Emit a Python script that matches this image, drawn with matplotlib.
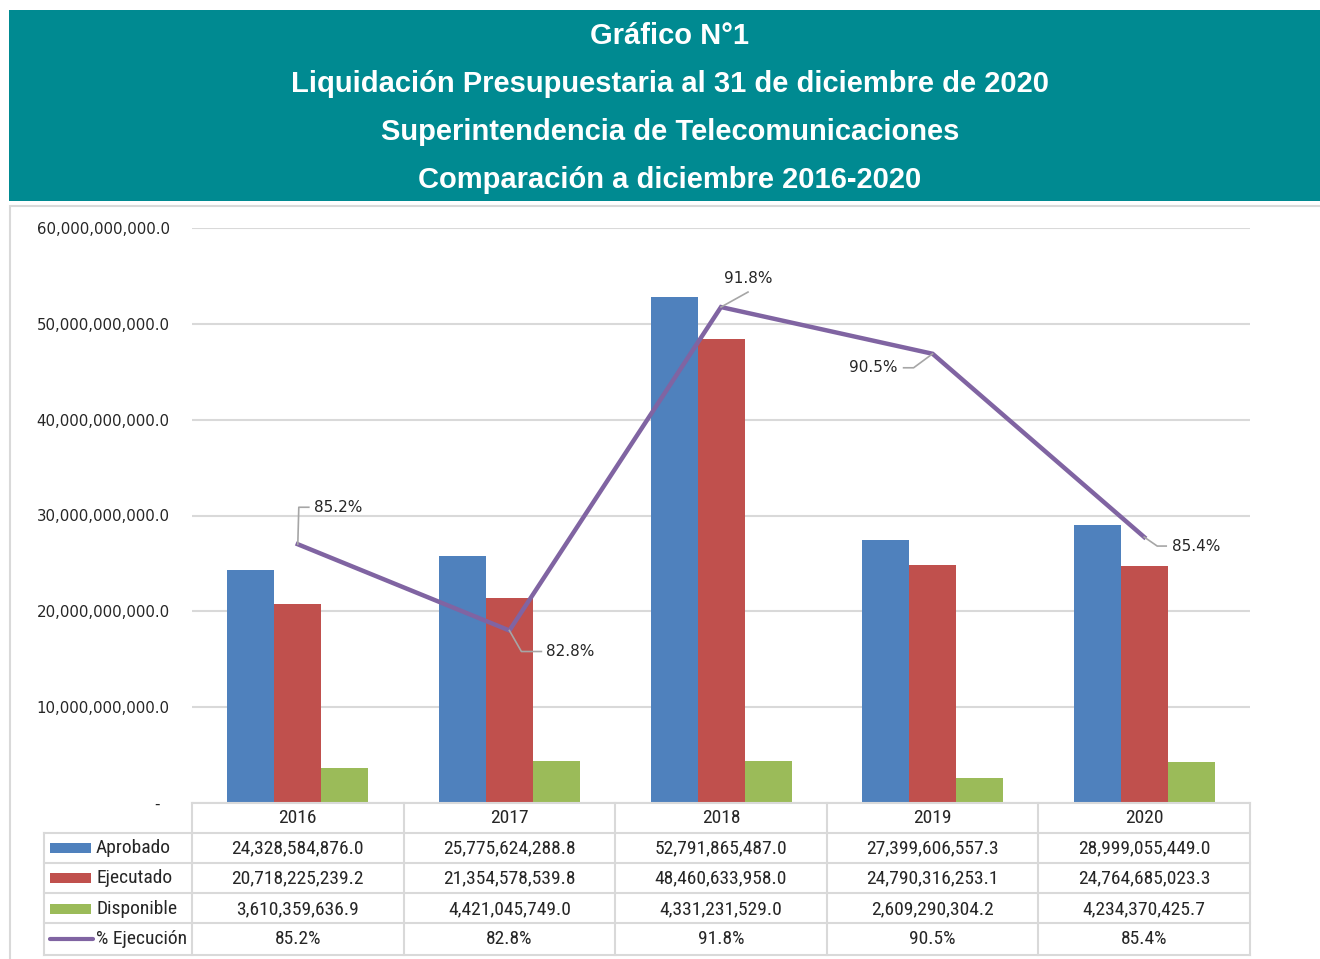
import matplotlib
matplotlib.use('Agg')
import matplotlib.pyplot as plt
import numpy as np
from matplotlib.patches import Rectangle
from matplotlib.lines import Line2D
from matplotlib.transforms import blended_transform_factory
from matplotlib import font_manager

# ---------------- data ----------------
years = ['2016', '2017', '2018', '2019', '2020']
aprobado = [24328584876.0, 25775624288.8, 52791865487.0, 27399606557.3, 28999055449.0]
ejecutado = [20718225239.2, 21354578539.8, 48460633958.0, 24790316253.1, 24764685023.3]
disponible = [3610359636.9, 4421045749.0, 4331231529.0, 2609290304.2, 4234370425.7]
pct_ejecucion = [85.2, 82.8, 91.8, 90.5, 85.4]
series_names = ['Aprobado', 'Ejecutado', 'Disponible', '% Ejecución']
title_lines = ['Gráfico N°1',
               'Liquidación Presupuestaria al 31 de diciembre de 2020',
               'Superintendencia de Telecomunicaciones',
               'Comparación a diciembre 2016-2020']
y_ticks = [0, 10e9, 20e9, 30e9, 40e9, 50e9, 60e9]

# ---------------- style ----------------
TEAL = '#008A91'
BLUE = '#4F81BD'
RED = '#C0504D'
GREEN = '#9BBB59'
PURPLE = '#8064A2'
GRID = '#D9D9D9'
TXT = '#262626'

available = {f.name for f in font_manager.fontManager.ttflist}
narrow = 'DejaVu Sans'
for cand in ['Liberation Sans Narrow', 'Arial Narrow', 'Roboto Condensed', 'DejaVu Sans Condensed']:
    if cand in available:
        narrow = cand
        break

W, H = 1320, 959
fig = plt.figure(figsize=(W / 100, H / 100), dpi=100)
fig.patch.set_facecolor('white')

def fx(px):
    return px / W

def fy(py):
    return 1 - py / H

# header band
fig.patches.append(Rectangle((fx(9), fy(201)), fx(1320) - fx(9), fy(10) - fy(201),
                             transform=fig.transFigure, facecolor=TEAL, edgecolor='none', zorder=0))
for i, line in enumerate(title_lines):
    fig.text(fx(670), fy(36 + 48 * i), line, ha='center', va='center', color='white',
             fontsize=21, fontweight='bold', family='Liberation Sans')

# chart border
fig.patches.append(Rectangle((fx(9.5), fy(975)), fx(1330) - fx(9.5), fy(206) - fy(975),
                             transform=fig.transFigure, facecolor='none', edgecolor=GRID,
                             linewidth=1.5, zorder=0))

# ---------------- main axes ----------------
ax = fig.add_axes([fx(192), fy(803), fx(1250) - fx(192), fy(228) - fy(803)])
x = np.arange(len(years))
w = 47 / 211.6
ax.bar(x - w, aprobado, w, color=BLUE, zorder=2)
ax.bar(x, ejecutado, w, color=RED, zorder=2)
ax.bar(x + w, disponible, w, color=GREEN, zorder=2)
ax.set_xlim(-0.5, len(years) - 0.5)
ax.set_ylim(0, 60e9)
ax.set_yticks(y_ticks)
ax.set_yticklabels(['-  ' if v == 0 else f'{v:,.1f}' for v in y_ticks])
ax.tick_params(axis='y', length=0, pad=16, labelsize=10.8, labelcolor=TXT)
ax.set_xticks([])
ax.grid(axis='y', color=GRID, linewidth=1.5, zorder=0)
for s in ax.spines.values():
    s.set_visible(False)

ax2 = ax.twinx()
ax2.set_ylim(78, 94)
ax2.plot(x, pct_ejecucion, color=PURPLE, linewidth=3.2, solid_joinstyle='miter', zorder=3)
ax2.set_yticks([])
for s in ax2.spines.values():
    s.set_visible(False)

# data labels with leader lines (offsets in pixels, y downward)
label_specs = [
    ([(0, 0), (1, -37), (11, -37)], (16, -37), 'left'),
    ([(0, 0), (12, 21), (32, 21)], (37, 21), 'left'),
    ([(0, 0), (27, -15)], (27, -29), 'center'),
    ([(0, 0), (-19, 14), (-29, 14)], (-35, 14), 'right'),
    ([(0, 0), (13, 9), (22, 9)], (28, 9), 'left'),
]
for i, (poly, lab, ha) in enumerate(label_specs):
    px0 = ax2.transData.transform((x[i], pct_ejecucion[i]))
    xs = [(px0[0] + dx) / W for dx, dy in poly]
    ys = [(px0[1] - dy) / H for dx, dy in poly]
    fig.add_artist(Line2D(xs, ys, transform=fig.transFigure, color='#A6A6A6', linewidth=1.2, zorder=4))
    fig.text((px0[0] + lab[0]) / W, (px0[1] - lab[1]) / H, f'{pct_ejecucion[i]:.1f}%',
             ha=ha, va='center', fontsize=11, color=TXT, zorder=5)

# ---------------- data table ----------------
bt = blended_transform_factory(ax.transData, fig.transFigure)
row_edges = [803, 833, 863, 893, 923, 955]
row_centers = [818, 848, 878, 909, 939]
col_edges = np.arange(len(years) + 1) - 0.5

fig.add_artist(Line2D([fx(192), fx(1250)], [fy(803), fy(803)], transform=fig.transFigure,
                      color=GRID, linewidth=1.5))
for ry in row_edges[1:]:
    fig.add_artist(Line2D([fx(44), fx(1250)], [fy(ry), fy(ry)], transform=fig.transFigure,
                          color=GRID, linewidth=1.5))
fig.add_artist(Line2D([fx(44), fx(44)], [fy(833), fy(955)], transform=fig.transFigure,
                      color=GRID, linewidth=1.5))
for ce in col_edges:
    fig.add_artist(Line2D([ce, ce], [fy(803), fy(955)], transform=bt, color=GRID, linewidth=1.5))

tfs = 14
for i, yr in enumerate(years):
    fig.text(x[i], fy(row_centers[0]), yr, transform=bt, ha='center', va='center',
             fontsize=tfs, color=TXT, family=narrow)
rows = [aprobado, ejecutado, disponible]
for r, vals in enumerate(rows):
    for i, v in enumerate(vals):
        fig.text(x[i], fy(row_centers[r + 1]), f'{v:,.1f}', transform=bt, ha='center',
                 va='center', fontsize=tfs, color=TXT, family=narrow)
for i, v in enumerate(pct_ejecucion):
    fig.text(x[i], fy(row_centers[4]), f'{v:.1f}%', transform=bt, ha='center', va='center',
             fontsize=tfs, color=TXT, family=narrow)

colors = [BLUE, RED, GREEN]
for r in range(3):
    yc = row_centers[r + 1]
    fig.patches.append(Rectangle((fx(50), fy(yc + 5)), fx(91) - fx(50), fy(yc - 5) - fy(yc + 5),
                                 transform=fig.transFigure, facecolor=colors[r], edgecolor='none'))
fig.add_artist(Line2D([fx(50), fx(93)], [fy(row_centers[4]), fy(row_centers[4])],
                      transform=fig.transFigure, color=PURPLE, linewidth=3, solid_capstyle='round'))
for r, name in enumerate(series_names):
    fig.text(fx(96), fy(row_centers[r + 1]), name, ha='left', va='center', fontsize=tfs,
             color=TXT, family=narrow)

fig.savefig('out.png', dpi=100, facecolor='white')
